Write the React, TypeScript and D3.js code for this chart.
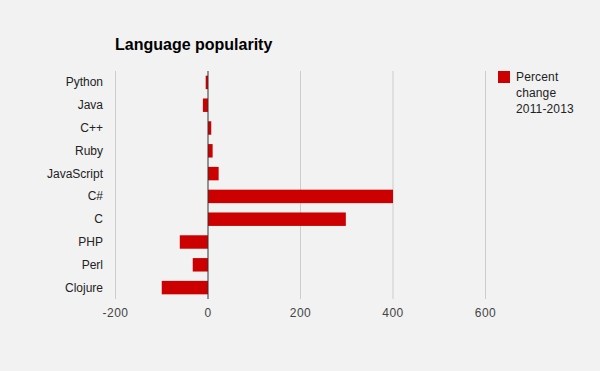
import React from "react";
import * as d3 from "d3";

const languages = ["Python", "Java", "C++", "Ruby", "JavaScript", "C#", "C", "PHP", "Perl", "Clojure"];
const percentChange = [-5, -11, 7, 10, 23, 400, 298, -61, -33, -100];
const xTicks = [-200, 0, 200, 400, 600];
const seriesName = ["Percent", "change", "2011-2013"];
const title = "Language popularity";

export default function App() {
  const W = 600, H = 371;
  const left = 115.5, right = 485.5, top = 71, bottom = 299;
  const x = d3.scaleLinear().domain([-200, 600]).range([left, right]);
  const y = d3.scaleBand().domain(languages).range([top, bottom]).paddingInner(0.41).paddingOuter(0.205);
  const font = "Arial, 'Liberation Sans', sans-serif";
  return (
    <svg width={W} height={H} style={{ position: "absolute", left: 0, top: 0, display: "block" }} fontFamily={font}>
      <rect width={W} height={H} fill="#f2f2f2" />
      <text x={115} y={50} fontSize={16} fontWeight="bold" fill="#000">{title}</text>
      {xTicks.filter(t => t !== 0).map(t => (
        <line key={t} x1={x(t)} x2={x(t)} y1={top} y2={bottom} stroke="#cccccc" strokeWidth={1} />
      ))}
      {xTicks.map(t => (
        <text key={"l" + t} x={x(t)} y={317} textAnchor="middle" fontSize={12} fill="#444" letterSpacing={0.5}>{t}</text>
      ))}
      {languages.map((l, i) => {
        const v = percentChange[i];
        return (
          <g key={l}>
            <rect x={Math.min(x(0), x(v))} y={y(l)} width={Math.abs(x(v) - x(0))} height={y.bandwidth()} fill="#cc0000" />
            <text x={103} y={(y(l) as number) + y.bandwidth() / 2 + 4} textAnchor="end" fontSize={12} fill="#222">{l}</text>
          </g>
        );
      })}
      <line x1={x(0)} x2={x(0)} y1={top} y2={bottom} stroke="#333" strokeWidth={1} />
      <rect x={498} y={71} width={12} height={12} fill="#cc0000" />
      {seriesName.map((s, i) => (
        <text key={s} x={516} y={81 + i * 16.2} fontSize={12} fill="#222" letterSpacing={0.15}>{s}</text>
      ))}
    </svg>
  );
}
